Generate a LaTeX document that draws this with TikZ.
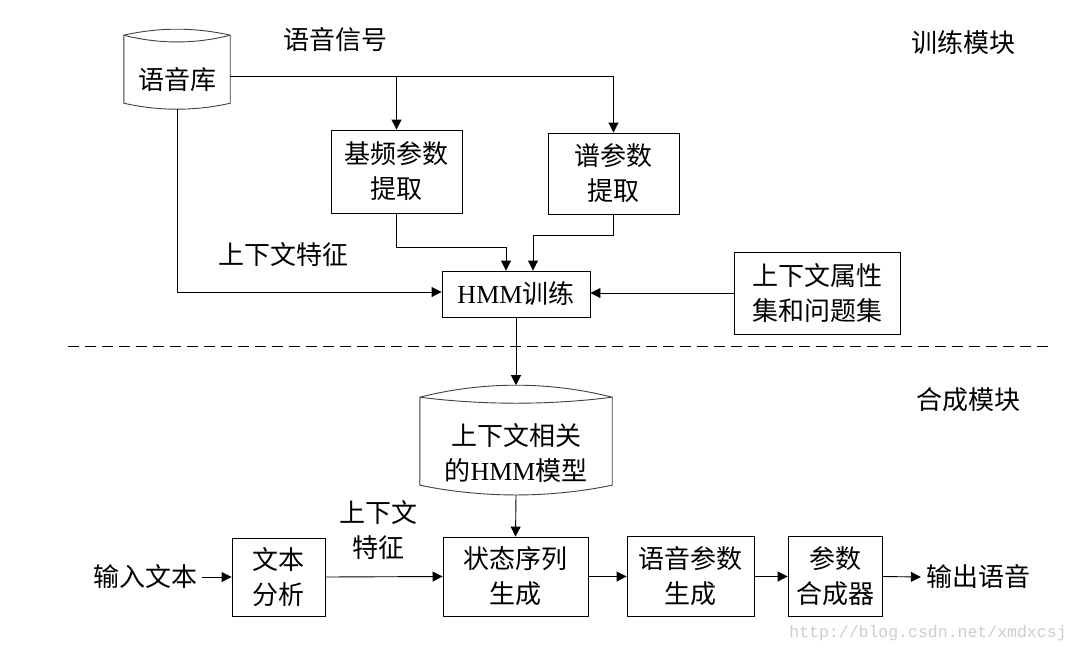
\documentclass[tikz,border=0pt]{standalone}
\usepackage{fontspec}
\setmainfont{Liberation Serif}
\newfontfamily\cjk{Noto Sans CJK SC}
\newfontfamily\urlfont{Liberation Mono}
\usetikzlibrary{arrows.meta,positioning,calc}
\definecolor{wmark}{RGB}{205,205,205}

\begin{document}
\begin{tikzpicture}[
    x=1pt, y=-1pt,
    every node/.style={font=\cjk\fontsize{26}{35}\selectfont},
    box/.style={rectangle, draw=black, line width=0.9pt, align=center, inner sep=0pt},
    dbase/.style={rectangle, align=center, inner sep=0pt},
    dbline/.style={draw=black!75, line width=0.9pt},
    arr/.style={-{Triangle[length=10pt,width=10pt]}, line width=0.9pt},
    lbl/.style={align=center, inner sep=5pt}
]
    % Page
    \fill[white] (0,0) rectangle (1081,656);
    \useasboundingbox (0,0) rectangle (1081,656);

    % Training module
    \node[dbase, minimum width=106pt, minimum height=58pt] (lib) at (177,80) {语音库};
    \draw[dbline] ($(lib.south west)+(0,-6)$) -- ($(lib.south west)+(0,-74)$)
        .. controls +(35,-8) and +(-35,-8) .. ($(lib.south east)+(0,-74)$)
        -- ($(lib.south east)+(0,-6)$)
        .. controls +(-35,8) and +(35,8) .. ($(lib.south west)+(0,-6)$);
    \draw[dbline] ($(lib.south west)+(0,-74)$) .. controls +(35,9) and +(-35,9) .. ($(lib.south east)+(0,-74)$);

    \node[lbl] (sig) at (335,40) {语音信号};
    \node[lbl] (trainlbl) at (963,43) {训练模块};

    \node[box, minimum width=131pt, minimum height=83pt] (f0) at (396.5,171.5) {基频参数\\提取};
    \node[box, minimum width=131pt, minimum height=81pt] (spec) at (613.5,173.5) {谱参数\\提取};
    \node[box, minimum width=148pt, minimum height=46pt] (hmm) at (516,294) {\textrm{HMM}训练};
    \node[box, minimum width=166pt, minimum height=82pt] (ques) at (817,293) {上下文属性\\集和问题集};
    \node[lbl] (ctxlbl) at (283,255) {上下文特征};

    \draw[arr] ([yshift=4pt]lib.east) -| (f0.north);
    \draw[arr] ([yshift=4pt]lib.east) -| (spec.north);
    \draw[arr] (f0.south) -- ++(0,34) -| ([xshift=-10pt]hmm.north);
    \draw[arr] (spec.south) -- ++(0,21) -| ([xshift=17pt]hmm.north);
    \draw[arr] (lib.south) |- ([yshift=2pt]hmm.west);
    \draw[arr] (ques.west) -- (ques.west -| hmm.east);

    % Separator
    \draw[line width=1pt, dash pattern=on 11pt off 6pt] (68,346) -- (1052,346);

    % Synthesis module
    \node[lbl] (synlbl) at (968,400) {合成模块};

    \node[dbase, minimum width=192pt, minimum height=84pt] (mdl) at (516,453) {上下文相关\\的\textrm{HMM}模型};
    \draw[dbline] ($(mdl.south west)+(0,-10)$) -- ($(mdl.south west)+(0,-98)$)
        .. controls +(63,-16) and +(-63,-16) .. ($(mdl.south east)+(0,-98)$)
        -- ($(mdl.south east)+(0,-10)$)
        .. controls +(-63,13) and +(63,13) .. ($(mdl.south west)+(0,-10)$);
    \draw[dbline] ($(mdl.south west)+(0,-98)$) .. controls +(63,8) and +(-63,8) .. ($(mdl.south east)+(0,-98)$);
    \coordinate (mdltop) at ($(mdl.south)+(0,-110)$);

    \node[box, minimum width=93pt, minimum height=78pt] (ana) at (278.5,577) {文本\\分析};
    \node[box, minimum width=145pt, minimum height=79pt] (state) at (515.5,576.5) {状态序列\\生成};
    \node[box, minimum width=127pt, minimum height=80pt] (par) at (690.5,576.5) {语音参数\\生成};
    \node[box, minimum width=94pt, minimum height=80pt] (synth) at (835,576.5) {参数\\合成器};

    \node[lbl] (inp) at (145,577) {输入文本};
    \node[lbl] (outp) at (978,577) {输出语音};
    \node[lbl] (ctx2) at (378,530) {上下文\\特征};

    \draw[arr] (hmm.south) -- (mdltop);
    \draw[arr] (mdl.south) -- (state.north);
    \draw[arr] (inp.east) -- (ana.west);
    \draw[arr] (ana.east) -- (state.west);
    \draw[arr] (state.east) -- (par.west);
    \draw[arr] (par.east) -- (synth.west);
    \draw[arr] (synth.east) -- (outp.west);

    % Watermark
    \node[font=\urlfont\fontsize{16.5}{18}\selectfont, text=wmark] (url) at (928,633) {http://blog.csdn.net/xmdxcsj};
\end{tikzpicture}
\end{document}
